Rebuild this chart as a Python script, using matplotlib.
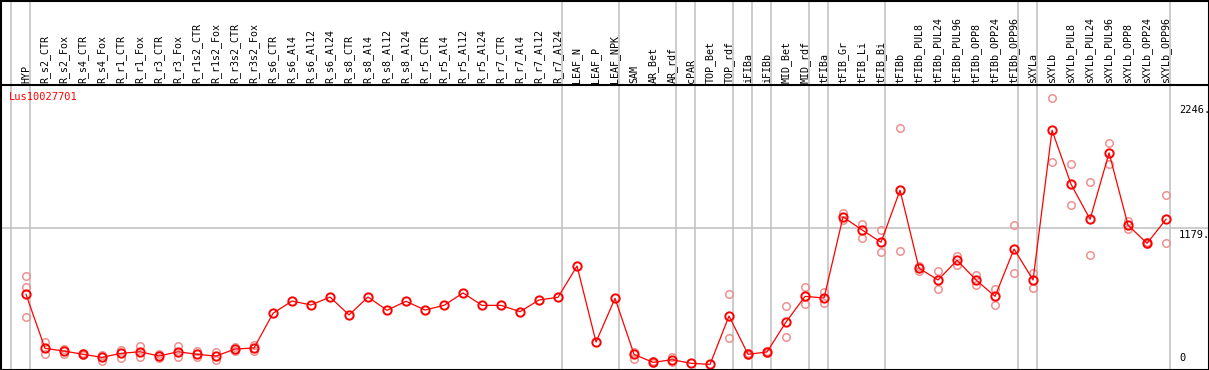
# Imports
import matplotlib
matplotlib.use('Agg')
import matplotlib.pyplot as plt
import matplotlib.transforms as mtransforms
from matplotlib.lines import Line2D

# Sample names (one column each)
labels = ['HYP',
	'R_s2_CTR', 'R_s2_Fox', 'R_s4_CTR', 'R_s4_Fox', 'R_r1_CTR', 'R_r1_Fox',
	'R_r3_CTR', 'R_r3_Fox', 'R_r1s2_CTR', 'R_r1s2_Fox', 'R_r3s2_CTR', 'R_r3s2_Fox',
	'R_s6_CTR', 'R_s6_Al4', 'R_s6_Al12', 'R_s6_Al24', 'R_s8_CTR', 'R_s8_Al4',
	'R_s8_Al12', 'R_s8_Al24', 'R_r5_CTR', 'R_r5_Al4', 'R_r5_Al12', 'R_r5_Al24',
	'R_r7_CTR', 'R_r7_Al4', 'R_r7_Al12', 'R_r7_Al24',
	'LEAF_N', 'LEAF_P', 'LEAF_NPK', 'SAM', 'AR_Bet', 'AR_rdf', 'cPAR',
	'TOP_Bet', 'TOP_rdf', 'iFIBa', 'iFIBb', 'MID_Bet', 'MID_rdf', 'tFIBa',
	'tFIB_Gr', 'tFIB_Li', 'tFIB_Bi', 'tFIBb', 'tFIBb_PUL8', 'tFIBb_PUL24',
	'tFIBb_PUL96', 'tFIBb_OPP8', 'tFIBb_OPP24', 'tFIBb_OPP96', 'sXYLa', 'sXYLb',
	'sXYLb_PUL8', 'sXYLb_PUL24', 'sXYLb_PUL96', 'sXYLb_OPP8', 'sXYLb_OPP24',
	'sXYLb_OPP96']

# Mean expression per sample
means = [612, 151, 128, 100, 74, 108, 122, 85, 122, 100,
	85, 145, 154, 450, 555, 521, 589, 436, 589, 476,
	553, 478, 518, 624, 518, 518, 464, 564, 587, 854,
	205, 578, 100, 31, 54, 23, 14, 427, 100, 120,
	376, 595, 581, 1273, 1162, 1057, 1501, 834, 735, 903,
	735, 595, 999, 735, 2013, 1552, 1253, 1820, 1202, 1048, 1253]

# Replicate values per sample
replicates = [[769, 675, 416], [202, 100], [145, 103], [108, 94], [94, 43],
	[137, 71], [168, 77], [103, 68], [168, 77], [131, 74], [117, 51],
	[160, 130], [179, 128],
	[], [], [], [], [], [], [], [], [], [], [], [], [], [], [], [],
	[], [], [], [122, 62], [40, 22], [80, 37], [], [], [615, 239],
	[110, 90], [128, 112], [510, 248], [675, 527], [629, 535],
	[1304, 1247], [1213, 1091], [1159, 971], [2031, 980], [850, 812],
	[809, 655], [942, 863], [777, 689], [660, 518], [1202, 792],
	[792, 664], [2287, 1740], [1723, 1373], [1569, 946], [1902, 1723],
	[1241, 1173], [1060, 1040], [1458, 1048]]

# Group separators (index of last sample in each group)
group_ends = [0, 28, 31, 34, 35, 37, 38, 39, 41, 42, 45, 52, 53, 60]

gene = 'Lus10027701'
y_ticks = [0, 1179, 2246]
y_tick_labels = ['0', '1179.', '2246.']

W, H = 1209, 370
fig = plt.figure(figsize=(W / 100, H / 100), dpi=100)
mono = 'DejaVu Sans Mono'
grey = '#c4c4c4'

# Plot area in pixels
left, right, top, bottom = 1, 1171, 85, 368
ax = fig.add_axes([left / W, (H - bottom) / H, (right - left) / W, (bottom - top) / H])
ax.set_xlim(-1.316, 60.26)
ax.set_ylim(-17, 2400)
ax.axis('off')

x = list(range(len(labels)))

# Vertical separators, running up through the label band
sep_x = [-0.8] + [k + 0.22 for k in group_ends]
trans_xf = mtransforms.blended_transform_factory(ax.transData, fig.transFigure)
for sx in sep_x:
	ax.add_line(Line2D([sx, sx], [0, 1], transform=trans_xf, color=grey, lw=1.2, clip_on=False, zorder=0))

# Horizontal line at the middle tick
trans_fy = mtransforms.blended_transform_factory(fig.transFigure, ax.transData)
ax.add_line(Line2D([0, 1], [y_ticks[1], y_ticks[1]], transform=trans_fy, color=grey, lw=1.2, clip_on=False, zorder=0))

# Replicates
rx, ry = [], []
for i, reps in enumerate(replicates):
	rx += [i] * len(reps)
	ry += reps
ax.plot(rx, ry, 'o', ms=5.4, mfc='none', mec='#ee9090', mew=1.1, ls='none', zorder=2)

# Mean line
ax.plot(x, means, '-', color='red', lw=0.9, zorder=3)
ax.plot(x, means, 'o', ms=6, mfc='none', mec='red', mew=1.4, ls='none', zorder=4)

# Sample labels above the plot
for i, lab in enumerate(labels):
	ax.text(i, (H - 83) / H, lab, transform=trans_xf, rotation=90, ha='center', va='bottom',
		fontsize=7.2, family=mono, color='black')

# Right side value labels
for v, t in zip(y_ticks, y_tick_labels):
	va = 'bottom' if v == 0 else 'top'
	ax.text(1179 / W, v + (25 if v == 0 else -20), t, transform=trans_fy, ha='left', va=va,
		fontsize=7.5, family=mono, color='black')

# Gene name
fig.text(9 / W, (H - 97) / H, gene, ha='left', va='center', fontsize=7.5, family=mono, color='red')

# Frame and header line
for xs, ys in [([0, 1], [(H - top) / H] * 2), ([0.5 / W] * 2, [0, 1]), ([1 - 0.5 / W] * 2, [0, 1]),
		([0, 1], [0.5 / H] * 2), ([0, 1], [1 - 0.5 / H] * 2)]:
	fig.add_artist(Line2D(xs, ys, color='black', lw=1.5))

fig.savefig('out.png', dpi=100)
